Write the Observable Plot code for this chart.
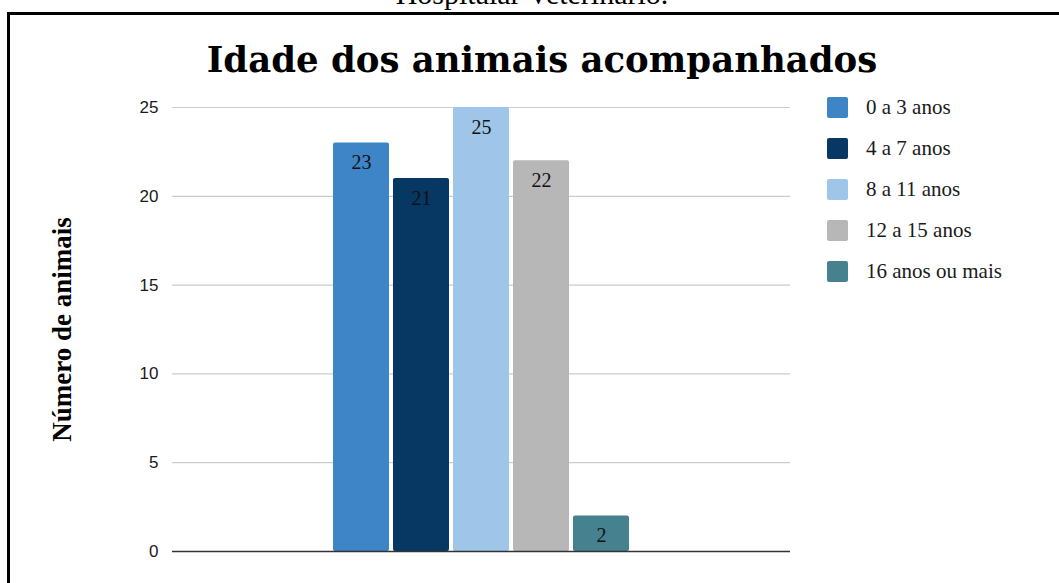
<!DOCTYPE html>
<html>
<head>
<meta charset="utf-8">
<script src="https://cdn.jsdelivr.net/npm/d3@7"></script>
<script src="https://cdn.jsdelivr.net/npm/@observablehq/plot@0.6"></script>
<style>
  html, body { margin: 0; padding: 0; background: #fff; overflow: hidden; }
  body { position: relative; width: 1059px; height: 583px; }
  #caption { position: absolute; left: 0; width: 1059px; top: -21px; text-align: center;
    font-family: "Liberation Serif", serif; font-size: 30px; line-height: 30px; color: #000; padding-left: 5px; box-sizing: border-box; }
  #frame { position: absolute; left: 7px; top: 12px; width: 1070px; height: 620px; border: 3px solid #000; box-sizing: border-box; }
  #title { position: absolute; left: 0; width: 1084px; top: 36px; text-align: center;
    font-family: "DejaVu Serif", serif; font-weight: bold; font-size: 35.5px; line-height: 48px; color: #000; }
  #chart { position: absolute; left: 0; top: 90px; }
  #legend { position: absolute; left: 827px; top: 87px; font-family: "Liberation Serif", serif; font-size: 21px; color: #1a1a1a; }
  .item { display: flex; align-items: center; height: 41px; }
  .sw { width: 21px; height: 21px; border-radius: 2px; margin-right: 18px; }
  .lab { line-height: 21px; }
</style>
</head>
<body>
<div id="caption">Hospitalar Veterinário.</div>
<div id="frame"></div>
<div id="title">Idade dos animais acompanhados</div>
<div id="chart"></div>
<div id="legend"></div>
<script>
const series = ["0 a 3 anos", "4 a 7 anos", "8 a 11 anos", "12 a 15 anos", "16 anos ou mais"];
const values = [23, 21, 25, 22, 2];
const colors = ["#3d85c6", "#073763", "#9fc5e8", "#b7b7b7", "#45818e"];
const yTicks = [0, 5, 10, 15, 20, 25];
const yLabel = "Número de animais";

const data = series.map((s, i) => ({series: s, value: values[i]}));

const plot = Plot.plot({
  width: 1059,
  height: 493,
  marginTop: 17,
  marginBottom: 32,
  marginLeft: 172,
  marginRight: 269,
  style: {fontFamily: "Liberation Sans, Arial, sans-serif", fontSize: "17px", color: "#1a1a1a", background: "transparent"},
  x: {type: "band", domain: series, range: [331, 631], paddingInner: 0.0667, paddingOuter: 0.0333, axis: null},
  y: {domain: [0, 25], ticks: yTicks, label: null},
  color: {domain: series, range: colors},
  marks: [
    Plot.ruleY(yTicks.filter(d => d > 0), {stroke: "#cccccc", strokeWidth: 1.2}),
    Plot.axisY({ticks: yTicks, tickSize: 0, tickPadding: 14, label: null, fontSize: 17}),
    Plot.barY(data, {x: "series", y: "value", fill: "series", rx: 2}),
    Plot.ruleY([0], {stroke: "#333", strokeWidth: 1.5}),
    Plot.text(data, {x: "series", y: "value", text: d => String(d.value), dy: 20,
      fill: "#111", fontFamily: "Liberation Serif, serif", fontSize: 20}),
    Plot.text([yLabel], {frameAnchor: "left", text: d => d, rotate: -90, dx: -110, textAnchor: "middle",
      fontFamily: "Liberation Serif, serif", fontWeight: "bold", fontSize: 27, fill: "#000"})
  ]
});
document.getElementById("chart").appendChild(plot);

const legend = document.getElementById("legend");
series.forEach((s, i) => {
  const item = document.createElement("div");
  item.className = "item";
  const sw = document.createElement("div");
  sw.className = "sw";
  sw.style.background = colors[i];
  const lab = document.createElement("div");
  lab.className = "lab";
  lab.textContent = s;
  item.appendChild(sw);
  item.appendChild(lab);
  legend.appendChild(item);
});
</script>
</body>
</html>
